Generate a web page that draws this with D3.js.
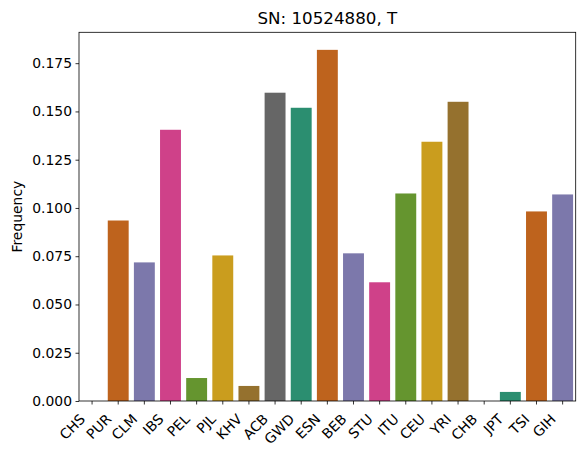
<!DOCTYPE html>
<html lang="en">
<head>
    <meta charset="UTF-8">
    <title>SN: 10524880, T</title>
    <script src="https://d3js.org/d3.v7.min.js"></script>
    <style>
        body { margin: 0; background: #fff; }
        svg { font-family: "DejaVu Sans", sans-serif; }
    </style>
</head>
<body>
<script>
    // population codes and allele frequency
    const populations = ["CHS", "PUR", "CLM", "IBS", "PEL", "PJL", "KHV", "ACB", "GWD", "ESN",
                         "BEB", "STU", "ITU", "CEU", "YRI", "CHB", "JPT", "TSI", "GIH"];
    const frequencies = [0.0, 0.0935, 0.0718, 0.1405, 0.0119, 0.0754, 0.0078, 0.1597, 0.1519, 0.1819,
                         0.0765, 0.0615, 0.1075, 0.1343, 0.1550, 0.0, 0.0047, 0.0982, 0.1070];
    const yTicks = [0, 0.025, 0.05, 0.075, 0.1, 0.125, 0.15, 0.175];
    const title = "SN: 10524880, T";

    const width = 584, height = 456;
    const plotLeft = 79, plotRight = 575.7, plotTop = 32.3, plotBottom = 401;

    const svg = d3.select("body").append("svg")
        .attr("width", width)
        .attr("height", height);

    // seaborn-style desaturated Dark2
    const colorScale = d3.scaleOrdinal()
        .domain(d3.range(8))
        .range(d3.schemeDark2.map(c => {
            const h = d3.hsl(c);
            h.s *= 0.75;
            return h.formatHex();
        }));

    const x = d3.scaleBand()
        .domain(populations)
        .range([plotLeft, plotRight])
        .paddingInner(0.2)
        .paddingOuter(0.1);

    const y = d3.scaleLinear()
        .domain([0, d3.max(frequencies) * 1.05])
        .range([plotBottom, plotTop]);

    // bars
    svg.append("g")
        .selectAll("rect")
        .data(populations)
        .enter().append("rect")
        .attr("x", d => x(d))
        .attr("width", x.bandwidth())
        .attr("y", (d, i) => y(frequencies[i]))
        .attr("height", (d, i) => y(0) - y(frequencies[i]))
        .attr("fill", (d, i) => colorScale(i % 8));

    // y axis
    const yAxis = svg.append("g")
        .attr("transform", "translate(" + plotLeft + ",0)")
        .call(d3.axisLeft(y).tickValues(yTicks).tickFormat(d3.format(".3f"))
            .tickSize(3.5).tickPadding(3.5));
    yAxis.select(".domain").remove();
    yAxis.selectAll(".tick line").attr("stroke", "#000").attr("stroke-width", 0.8);
    yAxis.selectAll(".tick text")
        .attr("font-size", "13.9px")
        .attr("fill", "#000")
        .attr("font-family", "DejaVu Sans");

    // x axis
    const xAxis = svg.append("g")
        .attr("transform", "translate(0," + plotBottom + ")")
        .call(d3.axisBottom(x).tickSize(3.5));
    xAxis.select(".domain").remove();
    xAxis.selectAll(".tick line").attr("stroke", "#000").attr("stroke-width", 0.8);
    xAxis.selectAll(".tick text")
        .attr("font-size", "13.9px")
        .attr("fill", "#000")
        .attr("font-family", "DejaVu Sans")
        .attr("text-anchor", "end")
        .attr("dy", null)
        .attr("y", 0)
        .attr("transform", "translate(-6,19) rotate(-45)");

    // frame
    svg.append("rect")
        .attr("x", plotLeft)
        .attr("y", plotTop)
        .attr("width", plotRight - plotLeft)
        .attr("height", plotBottom - plotTop)
        .attr("fill", "none")
        .attr("stroke", "#000")
        .attr("stroke-width", 0.8);

    // title
    svg.append("text")
        .attr("x", (plotLeft + plotRight) / 2)
        .attr("y", 24)
        .attr("text-anchor", "middle")
        .attr("font-size", "16.7px")
        .text(title);

    // y label
    svg.append("text")
        .attr("transform", "translate(22," + ((plotTop + plotBottom) / 2) + ") rotate(-90)")
        .attr("text-anchor", "middle")
        .attr("font-size", "13.9px")
        .text("Frequency");
</script>
</body>
</html>
